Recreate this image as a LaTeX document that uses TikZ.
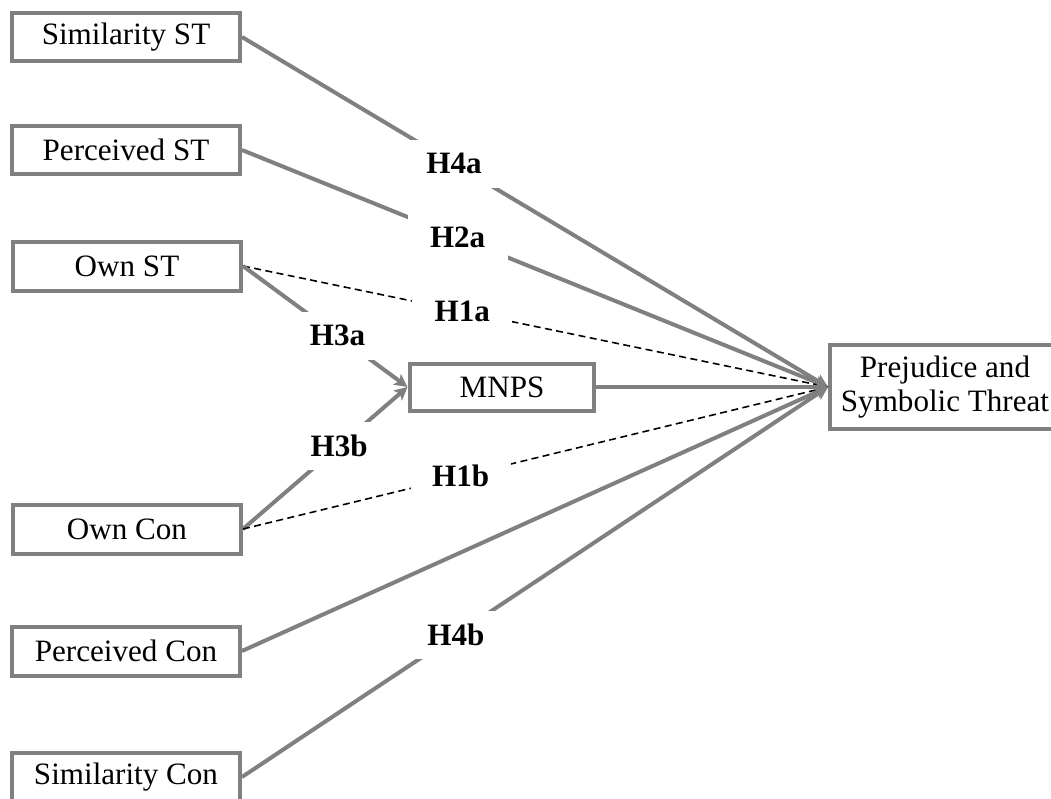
\documentclass[tikz,border=0pt]{standalone}
\usepackage{fontspec}
\setmainfont{Liberation Serif}
\usetikzlibrary{arrows.meta}
\definecolor{boxgray}{RGB}{128,128,128}
\tikzset{
    block/.style = {draw=boxgray, rectangle, line width=0.08cm, fill=white,
        minimum height=0.98cm,
        minimum width=4.56cm, inner sep=0pt,
        font=\fontsize{17.7}{19.5}\selectfont},
    hyp/.style = {fill=white, inner sep=0pt,
        minimum width=2cm, minimum height=0.96cm,
        font=\fontsize{17.7}{19.5}\selectfont\bfseries},
    arrow/.style = {draw=boxgray, line width=0.08cm,
        -{Stealth[length=0.26cm,width=0.26cm,inset=0.06cm]}},
    dline/.style = {draw=black, line width=0.9pt, dash pattern=on 4pt off 2.5pt}
}

\begin{document}
\begin{tikzpicture}[x=0.02cm, y=-0.02cm]
    \useasboundingbox (0,0) rectangle (1051,798);
    \node[block] (simst) at (126,37) {Similarity ST};
    \node[block] (perst) at (126,150) {Perceived ST};
    \node[block] (ownst) at (127,266) {Own ST};
    \node[block] (owncon) at (127,529) {Own Con};
    \node[block] (percon) at (126,651) {Perceived Con};
    \node[block] (simcon) at (126,777) {Similarity Con};
    \node[block, minimum width=3.7cm, minimum height=0.94cm] (mnps) at (502,387) {MNPS};
    \node[block, minimum width=4.6cm, minimum height=1.68cm, align=center] (prej) at (945,387) {Prejudice and\\Symbolic Threat};
    \draw [arrow] (simst.east) -- node[hyp,pos=.362] {H4a} (prej.west);
    \draw [arrow] (perst.east) -- node[hyp,pos=.368] {H2a} (prej.west);
    \draw [dline] (ownst.east) -- node[hyp,pos=.375] {H1a} (prej.west);
    \draw [arrow] (ownst.east) -- node[hyp,pos=.575] {H3a} (mnps.west);
    \draw [arrow] (owncon.east) -- node[hyp,pos=.585] {H3b} (mnps.west);
    \draw [dline] (owncon.east) -- node[hyp,pos=.372] {H1b} (prej.west);
    \draw [arrow] (mnps) -- (prej);
    \draw [arrow] (percon.east) -- (prej.west);
    \draw [arrow] (simcon.east) -- node[hyp,pos=.365] {H4b} (prej.west);
\end{tikzpicture}
\end{document}
